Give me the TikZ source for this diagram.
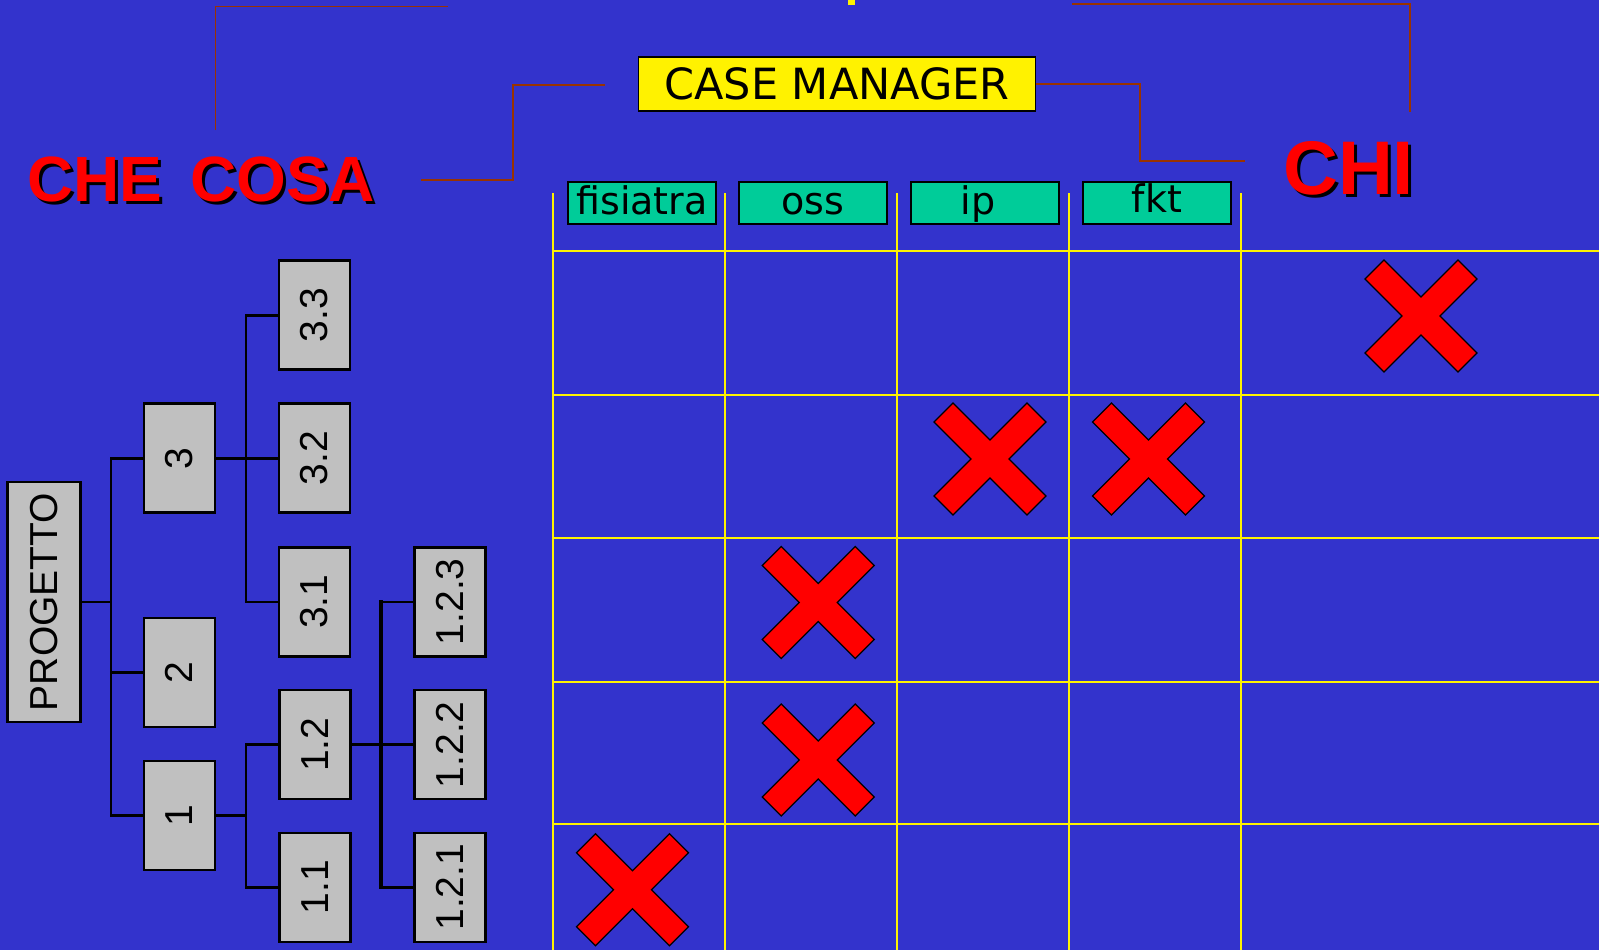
\documentclass[tikz,border=0pt]{standalone}
\usepackage{fontspec}
\setmainfont{Liberation Sans}
\newfontfamily\dejavu{DejaVu Sans}
\definecolor{bgblue}{HTML}{3333CC}
\definecolor{brownl}{HTML}{993300}
\definecolor{hdrgreen}{HTML}{00CC99}
\definecolor{boxgray}{HTML}{C0C0C0}
\begin{document}
\begin{tikzpicture}[x=1pt,y=-1pt,
  treebox/.style={draw=black, line width=2.5pt, fill=boxgray, minimum width=71pt, minimum height=109pt, inner sep=0pt, font=\fontsize{39}{39}\selectfont},
  treeline/.style={draw=black, line width=2.6pt},
  hdr/.style={draw=black, line width=1.5pt, fill=hdrgreen, minimum width=148pt, minimum height=42pt, inner sep=0pt, text height=32pt, text depth=10pt, font=\dejavu\fontsize{38}{38}\selectfont},
  cmbox/.style={draw=black, line width=1.5pt, fill=yellow, minimum width=397pt, minimum height=54pt, inner sep=0pt, text height=43pt, text depth=11pt, font=\dejavu\fontsize{43}{43}\selectfont},
  brownline/.style={draw=brownl, line width=1.5pt},
  gridline/.style={draw=yellow, line width=2pt},
  bigred/.style={text=red, inner sep=0pt, anchor=base west, font=\bfseries\fontsize{#1}{#1}\selectfont},
  bigshadow/.style={text=black, inner sep=0pt, anchor=base west, font=\bfseries\fontsize{#1}{#1}\selectfont},
  redx/.pic={\draw[line width=1.2pt, fill=red, line join=miter] (-56,-37) -- (-37,-56) -- (0,-19) -- (37,-56) -- (56,-37) -- (19,0) -- (56,37) -- (37,56) -- (0,19) -- (-37,56) -- (-56,37) -- (-19,0) -- cycle;}
]
\useasboundingbox (0,0) rectangle (1599,950);
\fill[bgblue] (0,0) rectangle (1599,950);

% small yellow mark at top
\fill[yellow] (848,0) rectangle (855,5);

% grid
\foreach \x in {553,725,897,1069,1241} \draw[gridline] (\x,193) -- (\x,950);
\foreach \y in {251,395,538,682,824} \draw[gridline] (553,\y) -- (1599,\y);

% titles
\node[bigshadow=64] (cheshadow) at (30,204.7) {CHE\hspace{10pt} COSA};
\node[bigred=64] (checosa) at (27,201.7) {CHE\hspace{10pt} COSA};
\node[bigshadow=76] (chishadow) at (1286,197) {CHI};
\node[bigred=76] (chi) at (1283,194) {CHI};

% case manager and headers
\node[cmbox] (cm) at (837,83.8) {CASE MANAGER};
\node[hdr] (fis) at (642,203) {fisiatra};
\node[hdr] (oss) at (813,203) {oss};
\node[hdr] (ip) at (985,203) {\hspace*{-14pt}ip};
\node[hdr, text height=30pt, text depth=12pt] (fkt) at (1157,203) {fkt};

% brown connector lines
\coordinate (tl1) at (215.6,130);
\coordinate (tl2) at (448,6.3);
\draw[brownline] (tl1) |- (tl2);
\coordinate (cc1) at (421,180);
\coordinate (ccm) at (513,85);
\coordinate (cc2) at (605,85);
\draw[brownline] (cc1) -| (ccm) -- (cc2);
\coordinate (cmb) at (1140,161);
\coordinate (chiend) at (1244.5,161);
\draw[brownline] (cm.east) -| (cmb) -- (chiend);
\coordinate (tr1) at (1072,4);
\coordinate (tr2) at (1410,111.7);
\draw[brownline] (tr1) -| (tr2);

% tree
\node[treebox, minimum width=73pt, minimum height=240pt] (prog) at (44.2,602) {\rotatebox{90}{PROGETTO}};
\node[treebox] (n3) at (179.3,458.2) {\rotatebox{90}{3}};
\node[treebox] (n2) at (179.3,672.5) {\rotatebox{90}{2}};
\node[treebox] (n1) at (179.3,815.5) {\rotatebox{90}{1}};
\node[treebox] (n33) at (314.5,315.2) {\rotatebox{90}{3.3}};
\node[treebox] (n32) at (314.5,458.2) {\rotatebox{90}{3.2}};
\node[treebox] (n31) at (314.5,601.8) {\rotatebox{90}{3.1}};
\node[treebox] (n12) at (314.8,744.7) {\rotatebox{90}{1.2}};
\node[treebox] (n11) at (314.8,887.3) {\rotatebox{90}{1.1}};
\node[treebox] (n123) at (449.9,601.8) {\rotatebox{90}{1.2.3}};
\node[treebox] (n122) at (450.1,744.7) {\rotatebox{90}{1.2.2}};
\node[treebox] (n121) at (450.1,887.3) {\rotatebox{90}{1.2.1}};

\coordinate (bA) at (111,0);
\coordinate (bB) at (246,0);
\coordinate (bC) at (381,0);
% level 1
\draw[treeline] (prog.east) -- (bA |- prog.east);
\draw[treeline, line cap=rect] (bA |- n3.west) -- (bA |- n1.west);
\draw[treeline] (bA |- n3.west) -- (n3.west);
\draw[treeline] (bA |- n2.west) -- (n2.west);
\draw[treeline] (bA |- n1.west) -- (n1.west);
% children of 3
\draw[treeline] (n3.east) -- (bB |- n3.east);
\draw[treeline, line cap=rect] (bB |- n33.west) -- (bB |- n31.west);
\draw[treeline, line width=3.3pt] (bB |- n33.west) -- (n33.west);
\draw[treeline] (bB |- n32.west) -- (n32.west);
\draw[treeline] (bB |- n31.west) -- (n31.west);
% children of 1
\draw[treeline] (n1.east) -- (bB |- n1.east);
\draw[treeline, line cap=rect] (bB |- n12.west) -- (bB |- n11.west);
\draw[treeline] (bB |- n12.west) -- (n12.west);
\draw[treeline] (bB |- n11.west) -- (n11.west);
% children of 1.2
\draw[treeline] (n12.east) -- (bC |- n12.east);
\draw[treeline, line cap=rect, line width=3.3pt] (bC |- n123.west) -- (bC |- n121.west);
\draw[treeline] (bC |- n123.west) -- (n123.west);
\draw[treeline] (bC |- n122.west) -- (n122.west);
\draw[treeline] (bC |- n121.west) -- (n121.west);

% red crosses
\pic at (1421,316) {redx};
\pic at (990,459) {redx};
\pic at (1148.5,459) {redx};
\pic at (818.3,602.5) {redx};
\pic at (818.3,760) {redx};
\pic at (632.5,889.7) {redx};
\end{tikzpicture}
\end{document}
